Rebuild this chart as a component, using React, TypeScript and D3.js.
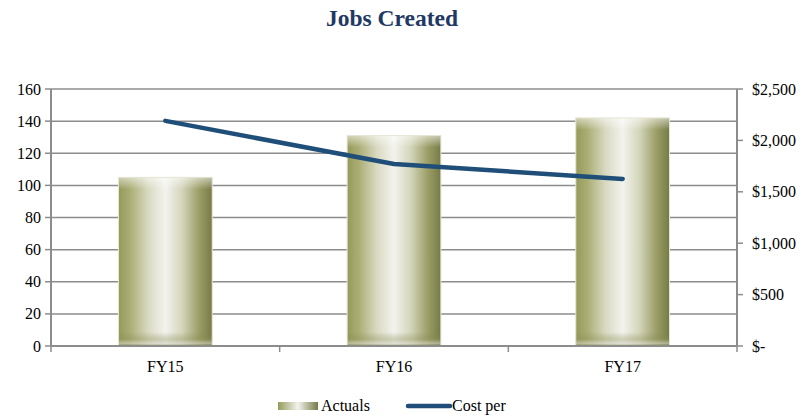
import React from "react";
import * as d3 from "d3";

const categories = ["FY15", "FY16", "FY17"];
const actuals = [105, 131, 142];
const costPer = [2190, 1770, 1625];
const leftTicks = [0, 20, 40, 60, 80, 100, 120, 140, 160];
const rightTicks = [0, 500, 1000, 1500, 2000, 2500];

const W = 806, H = 418;
const M = { left: 51, right: 737, top: 89, bottom: 346 };

export default function App() {
  const x = d3.scaleBand<string>().domain(categories).range([M.left, M.right]).paddingInner(0.59).paddingOuter(0.295);
  const yL = d3.scaleLinear().domain([0, 160]).range([M.bottom, M.top]);
  const yR = d3.scaleLinear().domain([0, 2500]).range([M.bottom, M.top]);
  const band = (M.right - M.left) / categories.length;
  const line = d3.line<number>().x((_, i) => x(categories[i])! + x.bandwidth() / 2).y(d => yR(d));
  const fmt = (v: number) => (v === 0 ? "$-" : "$" + d3.format(",")(v));
  const font = "'Liberation Serif', 'Times New Roman', serif";
  const grid = "#8c8c8c";
  return (
    <svg width={W} height={H} style={{ position: "absolute", left: 0, top: 0, fontFamily: font }}>
      <defs>
        <linearGradient id="barH" x1="0" x2="1" y1="0" y2="0">
          <stop offset="0" stopColor="#959a5a" />
          <stop offset="0.12" stopColor="#a9ad72" />
          <stop offset="0.32" stopColor="#d9dac2" />
          <stop offset="0.5" stopColor="#f3f3ee" />
          <stop offset="0.68" stopColor="#d3d5ba" />
          <stop offset="0.86" stopColor="#9b9e66" />
          <stop offset="1" stopColor="#767a45" />
        </linearGradient>
        <linearGradient id="barTop" x1="0" x2="0" y1="0" y2="1">
          <stop offset="0" stopColor="#ffffff" stopOpacity="0.55" />
          <stop offset="1" stopColor="#ffffff" stopOpacity="0" />
        </linearGradient>
        <linearGradient id="barBot" x1="0" x2="0" y1="0" y2="1">
          <stop offset="0" stopColor="#7a7d45" stopOpacity="0" />
          <stop offset="0.5" stopColor="#8c8f58" stopOpacity="0.35" />
          <stop offset="0.8" stopColor="#d8d8cc" stopOpacity="0.6" />
          <stop offset="1" stopColor="#7a7d45" stopOpacity="0.5" />
        </linearGradient>
        <linearGradient id="legH" x1="0" x2="1" y1="0" y2="0">
          <stop offset="0" stopColor="#959a5a" />
          <stop offset="0.5" stopColor="#f3f3ee" />
          <stop offset="1" stopColor="#767a45" />
        </linearGradient>
      </defs>
      <text x={(M.left + M.right) / 2 - 2} y={26} textAnchor="middle" fontSize={23.5} fontWeight="bold" fill="#1f3864">Jobs Created</text>
      {leftTicks.map(t => (
        <g key={t}>
          <line x1={M.left} x2={M.right} y1={yL(t)} y2={yL(t)} stroke={grid} strokeWidth={1.5} />
          <line x1={M.left - 6} x2={M.left} y1={yL(t)} y2={yL(t)} stroke={grid} strokeWidth={1.5} />
          <text x={M.left - 10} y={yL(t)} dy="0.35em" textAnchor="end" fontSize={16} fill="#000">{t}</text>
        </g>
      ))}
      {rightTicks.map(t => (
        <g key={t}>
          <line x1={M.right} x2={M.right + 6} y1={yR(t)} y2={yR(t)} stroke={grid} strokeWidth={1.5} />
          <text x={M.right + 15} y={yR(t)} dy="0.35em" textAnchor="start" fontSize={16} fill="#000">{fmt(t)}</text>
        </g>
      ))}
      {categories.map((c, i) => {
        const bx = x(c)!, bw = x.bandwidth(), by = yL(actuals[i]), bh = M.bottom - by;
        return (
          <g key={c}>
            <rect x={bx} y={by} width={bw} height={bh} fill="url(#barH)" />
            <rect x={bx} y={by} width={bw} height={12} fill="url(#barTop)" />
            <rect x={bx} y={M.bottom - 14} width={bw} height={14} fill="url(#barBot)" />
            <rect x={bx} y={by} width={bw} height={bh} fill="none" stroke="#e6e6d6" strokeWidth={1} />
          </g>
        );
      })}
      <line x1={M.left} x2={M.left} y1={M.top} y2={M.bottom} stroke={grid} strokeWidth={2} />
      <line x1={M.right} x2={M.right} y1={M.top} y2={M.bottom} stroke={grid} strokeWidth={2} />
      <line x1={M.left} x2={M.right} y1={M.bottom} y2={M.bottom} stroke={grid} strokeWidth={2} />
      {d3.range(categories.length + 1).map(i => (
        <line key={i} x1={M.left + i * band} x2={M.left + i * band} y1={M.bottom} y2={M.bottom + 6} stroke={grid} strokeWidth={1.5} />
      ))}
      {categories.map(c => (
        <text key={c} x={x(c)! + x.bandwidth() / 2} y={372} textAnchor="middle" fontSize={16} fill="#000">{c}</text>
      ))}
      <path d={line(costPer)!} fill="none" stroke="#1f4e79" strokeWidth={4.5} strokeLinecap="round" strokeLinejoin="round" />
      <rect x={278} y={402} width={40} height={8} fill="url(#legH)" />
      <text x={321} y={411} fontSize={16} fill="#000">Actuals</text>
      <line x1={408} x2={450} y1={406} y2={406} stroke="#1f4e79" strokeWidth={4.5} strokeLinecap="round" />
      <text x={452} y={411} fontSize={16} fill="#000">Cost per</text>
    </svg>
  );
}
